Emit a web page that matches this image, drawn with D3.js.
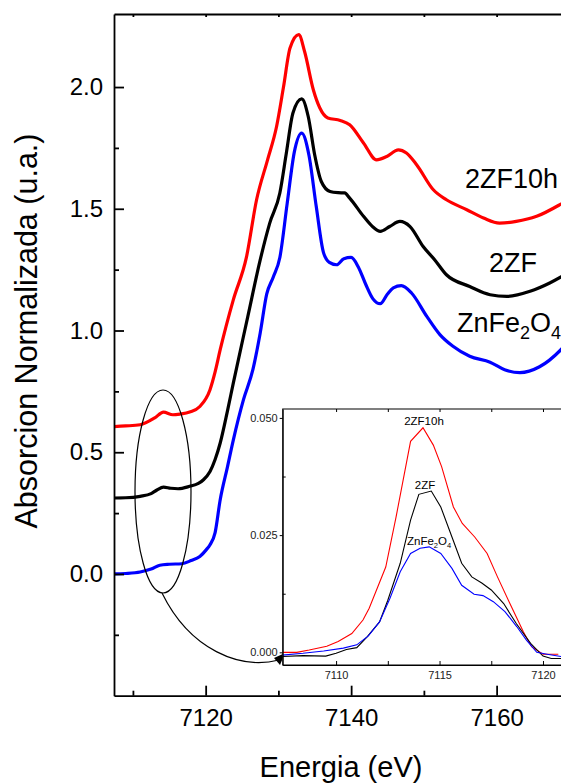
<!DOCTYPE html>
<html><head><meta charset="utf-8">
<script src="https://cdn.jsdelivr.net/npm/d3@7"></script>
<style>
html,body{margin:0;padding:0;background:#fff;}
svg{display:block;font-family:"Liberation Sans",Arial,sans-serif;}
</style></head>
<body><svg id="c" width="561" height="783"></svg>
<script>
// ---------- main spectra (Energy eV, normalized absorption) ----------
const energyZnFe2O4 = [7107,7109,7111,7112.5,7113.7,7115,7116.7,7118,7119.2,7120.1,7120.6,7121.3,7122,7123,7123.8,7125.2,7126.5,7127.5,7128.4,7129.3,7130.2,7131.2,7132.2,7133.2,7134.2,7135.2,7136.2,7137,7138,7139,7140,7141,7142,7143,7144,7145,7145.8,7146.9,7148.3,7150.4,7152.2,7154,7156.3,7159.1,7161.1,7163.2,7165.9,7168.8,7170];
const absZnFe2O4    = [0.0,0.002,0.008,0.02,0.036,0.04,0.042,0.055,0.072,0.10,0.12,0.17,0.305,0.44,0.55,0.716,0.84,0.99,1.15,1.22,1.30,1.52,1.735,1.811,1.72,1.51,1.32,1.28,1.27,1.295,1.30,1.26,1.19,1.13,1.11,1.15,1.175,1.184,1.154,1.058,0.983,0.935,0.894,0.87,0.839,0.827,0.851,0.92,0.96];

const energy2ZF = [7107,7109,7111,7112.5,7113.3,7114.2,7115.2,7116.2,7117.8,7119,7119.7,7120.6,7121.3,7122,7123,7123.8,7125.8,7127.5,7128.8,7130.2,7131.1,7132,7133.2,7134.1,7135,7135.9,7137.1,7138.2,7139.1,7139.8,7141.7,7143,7144,7145.3,7146.7,7148.1,7149.9,7151.5,7153.1,7156.3,7159.1,7161.4,7164.6,7167.3,7170];
const abs2ZF    = [0.312,0.313,0.319,0.33,0.345,0.357,0.352,0.350,0.36,0.372,0.387,0.421,0.47,0.538,0.67,0.784,1.058,1.29,1.44,1.565,1.73,1.893,1.951,1.879,1.72,1.612,1.571,1.566,1.565,1.544,1.469,1.425,1.407,1.427,1.448,1.427,1.345,1.29,1.229,1.181,1.147,1.14,1.161,1.195,1.24];

const energy2ZF10h = [7107,7109,7111,7113,7114.2,7115.5,7116.5,7117.8,7119.2,7120.6,7121.3,7122,7123.8,7125.6,7127,7128.5,7129.75,7130.7,7131.6,7132.8,7133.6,7134.8,7135.7,7136.8,7138.5,7139.8,7141.7,7143.5,7144.9,7146.5,7147.6,7149,7151.3,7153.1,7155.9,7158.2,7160.4,7162.7,7165.5,7168.7,7170];
const abs2ZF10h    = [0.605,0.608,0.613,0.641,0.665,0.654,0.657,0.665,0.688,0.757,0.83,0.921,1.126,1.30,1.537,1.70,1.838,2.0,2.16,2.215,2.146,1.989,1.914,1.873,1.863,1.845,1.77,1.701,1.715,1.742,1.729,1.681,1.578,1.537,1.496,1.462,1.441,1.448,1.469,1.517,1.54];

// ---------- inset: pre-edge peaks ----------
const insetE_2ZF10h = [7107.4,7108.1,7108.7,7109.55,7110.1,7110.76,7111.3,7111.6,7112.4,7112.9,7113.6,7114.2,7114.7,7115.1,7115.67,7116.1,7116.7,7117.3,7117.8,7118.4,7119.05,7119.45,7120.0,7120.74];
const insetA_2ZF10h = [0.0,0.0,0.0005,0.0013,0.0023,0.004,0.0069,0.0094,0.0182,0.0289,0.045,0.0479,0.0442,0.0396,0.031,0.0275,0.0246,0.0211,0.0161,0.0104,0.0044,0.0012,-0.0004,-0.0004];
const insetE_2ZF = [7107.4,7108.4,7109.5,7110.0,7110.5,7111.0,7111.5,7112.1,7112.5,7113.1,7113.6,7114.0,7114.6,7115.06,7115.6,7116.07,7116.56,7117.04,7117.5,7118.1,7118.7,7119.4,7120.0,7120.4,7120.87];
const insetA_2ZF = [-0.0009,-0.0007,-0.0008,-0.0002,0.0006,0.001,0.0033,0.0065,0.0111,0.019,0.0282,0.0337,0.0344,0.031,0.0246,0.019,0.0161,0.0148,0.0133,0.0104,0.0062,0.0019,-0.0008,-0.0013,-0.0013];
const insetE_ZnFe2O4 = [7107.4,7108.4,7109.4,7110.35,7111.0,7111.56,7112.1,7112.6,7113.1,7113.6,7114.06,7114.5,7115.06,7115.6,7116.07,7116.67,7117.1,7117.6,7118.16,7118.73,7119.2,7119.7,7120.2,7120.87];
const insetA_ZnFe2O4 = [-0.0006,-0.0002,0.0003,0.0009,0.0016,0.0035,0.0065,0.0115,0.0172,0.0211,0.0222,0.0225,0.0211,0.0179,0.0143,0.0124,0.0121,0.0108,0.0087,0.0055,0.0026,0.0,-0.0004,-0.0009];

// ---------- ticks ----------
const xMajorTicks = [7120,7140,7160];
const xMinorTicks = [7110,7130,7150];
const xTopTicks = [7110,7120,7130,7140,7150,7160];
const yMajorTicks = [0.0,0.5,1.0,1.5,2.0];
const yMinorTicks = [-0.25,0.25,0.75,1.25,1.75];
const insetXTicks = [7110,7115,7120];
const insetXMinor = [7112.5,7117.5];
const insetYTicks = [0.000,0.025,0.050];
const insetYMinor = [0.0125,0.0375];

const svg = d3.select("#c");
const W = 561;

// ---------- scales ----------
const x = d3.scaleLinear().domain([7107.4, 7168.85]).range([114, W]);
const y = d3.scaleLinear().domain([-0.5, 2.3]).range([695.7, 14]);

svg.append("defs").append("clipPath").attr("id","clipMain")
  .append("rect").attr("x",114).attr("y",14).attr("width",W-114).attr("height",681.7);

// main curves
const line = d3.line().x(d=>x(d[0])).y(d=>y(d[1])).curve(d3.curveMonotoneX);
const series = [
  {E:energy2ZF10h, A:abs2ZF10h, color:"#ff0000"},
  {E:energy2ZF, A:abs2ZF, color:"#000000"},
  {E:energyZnFe2O4, A:absZnFe2O4, color:"#0000ff"}
];
const gC = svg.append("g").attr("clip-path","url(#clipMain)");
series.forEach(s=>{
  gC.append("path").datum(s.E.map((e,i)=>[e,s.A[i]]))
    .attr("d",line).attr("fill","none").attr("stroke",s.color)
    .attr("stroke-width",3.2).attr("stroke-linejoin","round");
});

// axes
const axStroke = 1.8;
const gx = svg.append("g").attr("transform","translate(0,695.7)")
  .call(d3.axisBottom(x).tickValues(xMajorTicks).tickSizeInner(-10).tickSizeOuter(0).tickPadding(13).tickFormat(d3.format("d")));
gx.selectAll("text").attr("font-size",24).attr("fill","#000").attr("dy","0.71em");
svg.append("g").attr("transform","translate(0,695.7)")
  .call(d3.axisBottom(x).tickValues(xMinorTicks).tickSizeInner(-5).tickSizeOuter(0).tickFormat(""))
  .select(".domain").remove();
const gy = svg.append("g").attr("transform","translate(114,0)")
  .call(d3.axisLeft(y).tickValues(yMajorTicks).tickSizeInner(-10).tickSizeOuter(0).tickPadding(11).tickFormat(d3.format(".1f")));
gy.selectAll("text").attr("font-size",24).attr("fill","#000");
svg.append("g").attr("transform","translate(114,0)")
  .call(d3.axisLeft(y).tickValues(yMinorTicks).tickSizeInner(-5).tickSizeOuter(0).tickFormat(""))
  .select(".domain").remove();
// top border
svg.append("g").attr("transform","translate(0,14)")
  .call(d3.axisTop(x).tickValues(xTopTicks).tickSizeInner(-3).tickSizeOuter(0).tickFormat(""));
svg.selectAll(".domain").attr("stroke-width",axStroke);
svg.selectAll(".tick line").attr("stroke-width",axStroke);

// axis titles
svg.append("text").attr("x",341).attr("y",777).attr("text-anchor","middle")
  .attr("font-size",29).text("Energia (eV)");
svg.append("text").attr("transform","translate(37,331) rotate(-90)").attr("text-anchor","middle")
  .attr("font-size",30.5).text("Absorcion Normalizada (u.a.)");

// curve labels
svg.append("text").attr("x",465).attr("y",188).attr("font-size",27).text("2ZF10h");
svg.append("text").attr("x",489).attr("y",272).attr("font-size",27).text("2ZF");
const lz = svg.append("text").attr("x",457).attr("y",332).attr("font-size",27);
lz.append("tspan").text("ZnFe");
lz.append("tspan").attr("font-size",18).attr("dy",7).text("2");
lz.append("tspan").attr("dy",-7).text("O");
lz.append("tspan").attr("font-size",18).attr("dy",7).text("4");

// ellipse + connector
svg.append("ellipse").attr("cx",163).attr("cy",491.5).attr("rx",28).attr("ry",101.5)
  .attr("fill","none").attr("stroke","#000").attr("stroke-width",1.2);
svg.append("path").attr("d","M162,593 C190,650 240,670 279,660")
  .attr("fill","none").attr("stroke","#000").attr("stroke-width",1.2);
svg.append("path").attr("d","M285,653 L274,658 L280,665 Z").attr("fill","#000");

// ---------- inset ----------
const xi = d3.scaleLinear().domain([7107.42, 7120.87]).range([282.7, W]);
const yi = d3.scaleLinear().domain([-0.0027, 0.0519]).range([665, 409]);
svg.append("rect").attr("x",282.7).attr("y",409).attr("width",W-282.7+2).attr("height",256)
  .attr("fill","#fff").attr("stroke","#000").attr("stroke-width",1);
svg.append("defs").append("clipPath").attr("id","clipIn")
  .append("rect").attr("x",282.7).attr("y",409).attr("width",W-282.7).attr("height",256);
const lineI = d3.line().x(d=>xi(d[0])).y(d=>yi(d[1]));
const inset = [
  {E:insetE_2ZF10h, A:insetA_2ZF10h, color:"#ff0000"},
  {E:insetE_2ZF, A:insetA_2ZF, color:"#000000"},
  {E:insetE_ZnFe2O4, A:insetA_ZnFe2O4, color:"#0000ff"}
];
const gI = svg.append("g").attr("clip-path","url(#clipIn)");
inset.forEach(s=>{
  gI.append("path").datum(s.E.map((e,i)=>[e,s.A[i]]))
    .attr("d",lineI).attr("fill","none").attr("stroke",s.color).attr("stroke-width",1.1);
});
const gix = svg.append("g").attr("transform","translate(0,665)")
  .call(d3.axisBottom(xi).tickValues(insetXTicks).tickSizeInner(-4).tickSizeOuter(0).tickPadding(6).tickFormat(d3.format("d")));
svg.append("g").attr("transform","translate(0,665)")
  .call(d3.axisBottom(xi).tickValues(insetXMinor).tickSizeInner(-4).tickSizeOuter(0).tickFormat(""))
  .select(".domain").remove();
const giy = svg.append("g").attr("transform","translate(282.7,0)")
  .call(d3.axisLeft(yi).tickValues(insetYTicks).tickSizeInner(3).tickSizeOuter(0).tickPadding(2).tickFormat(d3.format(".3f")));
svg.append("g").attr("transform","translate(282.7,0)")
  .call(d3.axisLeft(yi).tickValues(insetYMinor).tickSizeInner(-3).tickSizeOuter(0).tickFormat(""))
  .select(".domain").remove();
svg.append("g").attr("transform","translate(0,409)")
  .call(d3.axisTop(xi).tickValues(insetXTicks.concat(insetXMinor)).tickSizeInner(-3).tickSizeOuter(0).tickFormat(""))
  .select(".domain").remove();
[gix, giy].forEach(g=>{
  g.selectAll("text").attr("font-size",11).attr("fill","#222");
  g.select(".domain").attr("stroke-width",1);
});
svg.append("text").attr("x",424).attr("y",425).attr("text-anchor","middle").attr("font-size",11.5).text("2ZF10h");
svg.append("text").attr("x",425).attr("y",489).attr("text-anchor","middle").attr("font-size",11.5).text("2ZF");
const li = svg.append("text").attr("x",407).attr("y",545).attr("font-size",11.5);
li.append("tspan").text("ZnFe");
li.append("tspan").attr("font-size",7.5).attr("dy",3).text("2");
li.append("tspan").attr("dy",-3).text("O");
li.append("tspan").attr("font-size",7.5).attr("dy",3).text("4");
</script></body></html>
